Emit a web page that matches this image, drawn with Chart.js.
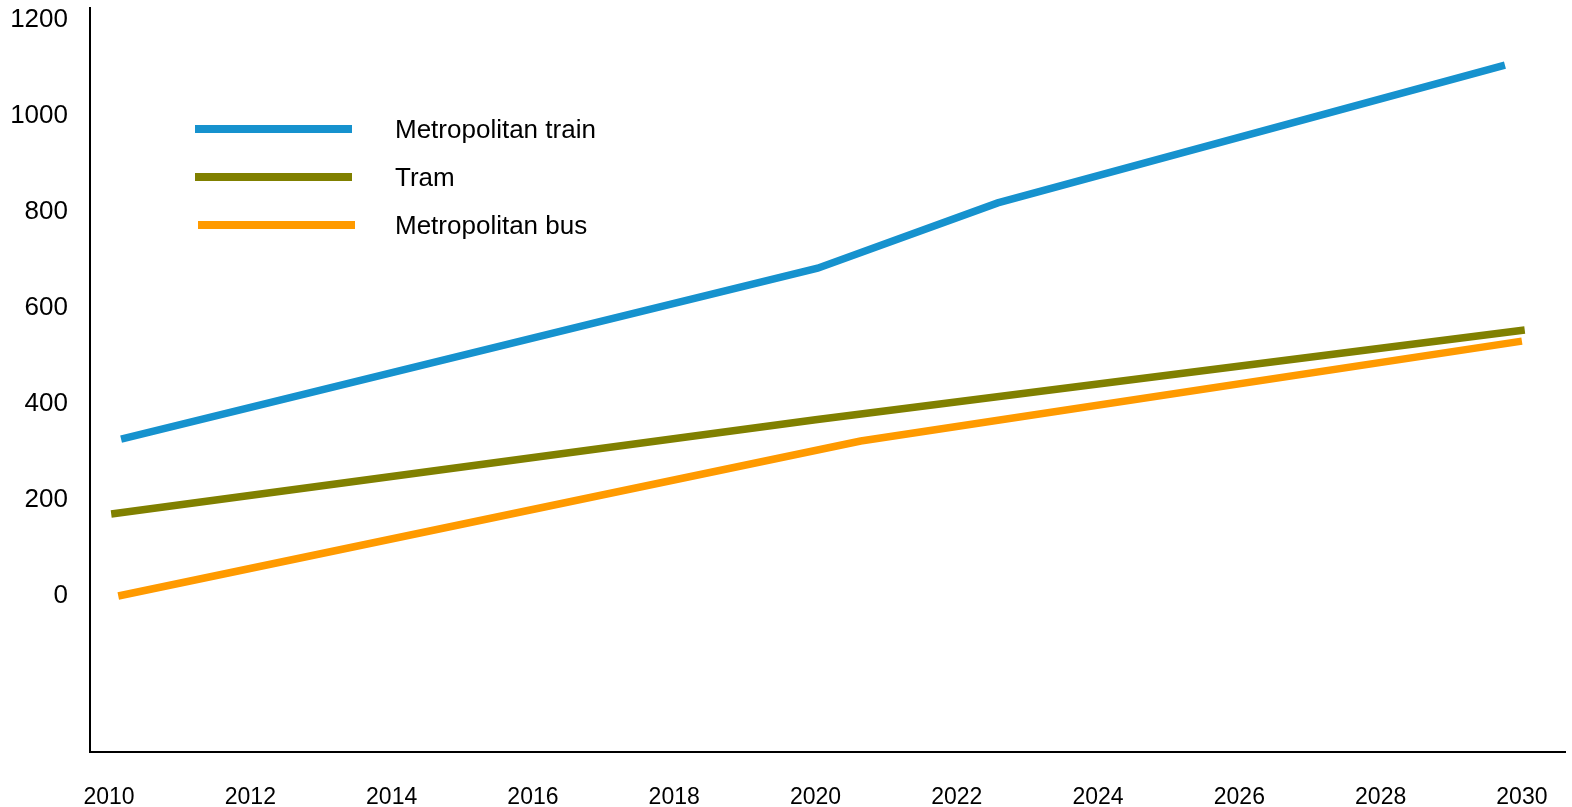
<!DOCTYPE html>
<html>
<head>
<meta charset="utf-8">
<style>
  html, body { margin: 0; padding: 0; background: #fff; }
  #wrap { width: 1572px; height: 807px; position: relative; }
</style>
<script src="https://cdn.jsdelivr.net/npm/chart.js@4/dist/chart.umd.min.js"></script>
</head>
<body>
<div id="wrap"><canvas id="c" width="1572" height="807"></canvas></div>
<script>
// ---- Data ----
const seriesNames = ["Metropolitan train", "Tram", "Metropolitan bus"];
const trainYears = [2010.17, 2020.03, 2022.58, 2029.76];
const trainValues = [327, 683, 819, 1106];
const tramYears = [2010.03, 2020.0, 2030.04];
const tramValues = [171, 367, 554];
const busYears = [2010.13, 2020.64, 2030.0];
const busValues = [0, 323, 531];
const xTickLabels = [2010, 2012, 2014, 2016, 2018, 2020, 2022, 2024, 2026, 2028, 2030];
const yTickLabels = [0, 200, 400, 600, 800, 1000, 1200];
const colors = ["#1692CE", "#808000", "#FF9A00"];

const FONT = '"Liberation Sans", Arial, Helvetica, sans-serif';

function pts(xs, ys) { return xs.map((x, i) => ({ x: x, y: ys[i] })); }

const customLegend = {
  id: 'customLegend',
  afterDraw(chart) {
    const ctx = chart.ctx;
    const rows = [
      { x1: 195, x2: 352, y: 129 },
      { x1: 195, x2: 352, y: 177 },
      { x1: 198, x2: 355, y: 225 }
    ];
    ctx.save();
    chart.data.datasets.forEach((ds, i) => {
      const r = rows[i];
      ctx.beginPath();
      ctx.strokeStyle = ds.borderColor;
      ctx.lineWidth = 8;
      ctx.lineCap = 'butt';
      ctx.moveTo(r.x1, r.y);
      ctx.lineTo(r.x2, r.y);
      ctx.stroke();
      ctx.fillStyle = '#000';
      ctx.font = '26px ' + FONT;
      ctx.textBaseline = 'middle';
      ctx.textAlign = 'left';
      ctx.fillText(ds.label, 395, r.y + 2);
    });
    ctx.restore();
  }
};

const ctx = document.getElementById('c').getContext('2d');
new Chart(ctx, {
  type: 'line',
  data: {
    datasets: [
      { label: seriesNames[0], data: pts(trainYears, trainValues), borderColor: colors[0] },
      { label: seriesNames[1], data: pts(tramYears, tramValues), borderColor: colors[1] },
      { label: seriesNames[2], data: pts(busYears, busValues), borderColor: colors[2] }
    ]
  },
  options: {
    responsive: false,
    animation: false,
    devicePixelRatio: 1,
    layout: { padding: { top: 8, right: 7, left: 0, bottom: 0 } },
    elements: {
      point: { radius: 0, hoverRadius: 0 },
      line: { borderWidth: 7.5, tension: 0, borderCapStyle: 'butt', borderJoinStyle: 'miter', fill: false }
    },
    plugins: { legend: { display: false }, tooltip: { enabled: false } },
    scales: {
      x: {
        type: 'linear',
        min: 2009.73,
        max: 2030.61,
        grid: { display: false, drawTicks: false },
        border: { display: true, color: '#000', width: 2 },
        ticks: {
          color: '#000',
          font: { family: FONT, size: 23 },
          padding: 32,
          maxRotation: 0,
          autoSkip: false,
          callback: (v) => String(v)
        },
        afterBuildTicks: (scale) => { scale.ticks = xTickLabels.map(v => ({ value: v })); },
        afterFit: (scale) => { scale.height = 55; scale.paddingLeft = 0; scale.paddingRight = 0; }
      },
      y: {
        type: 'linear',
        min: -325,
        max: 1225,
        grid: { display: false, drawTicks: false },
        border: { display: true, color: '#000', width: 2 },
        ticks: {
          color: '#000',
          font: { family: FONT, size: 26 },
          padding: 22,
          autoSkip: false,
          callback: (v) => String(v)
        },
        afterBuildTicks: (scale) => { scale.ticks = yTickLabels.map(v => ({ value: v })); },
        afterFit: (scale) => { scale.width = 90; scale.paddingTop = 0; scale.paddingBottom = 0; }
      }
    }
  },
  plugins: [customLegend]
});
</script>
</body>
</html>
